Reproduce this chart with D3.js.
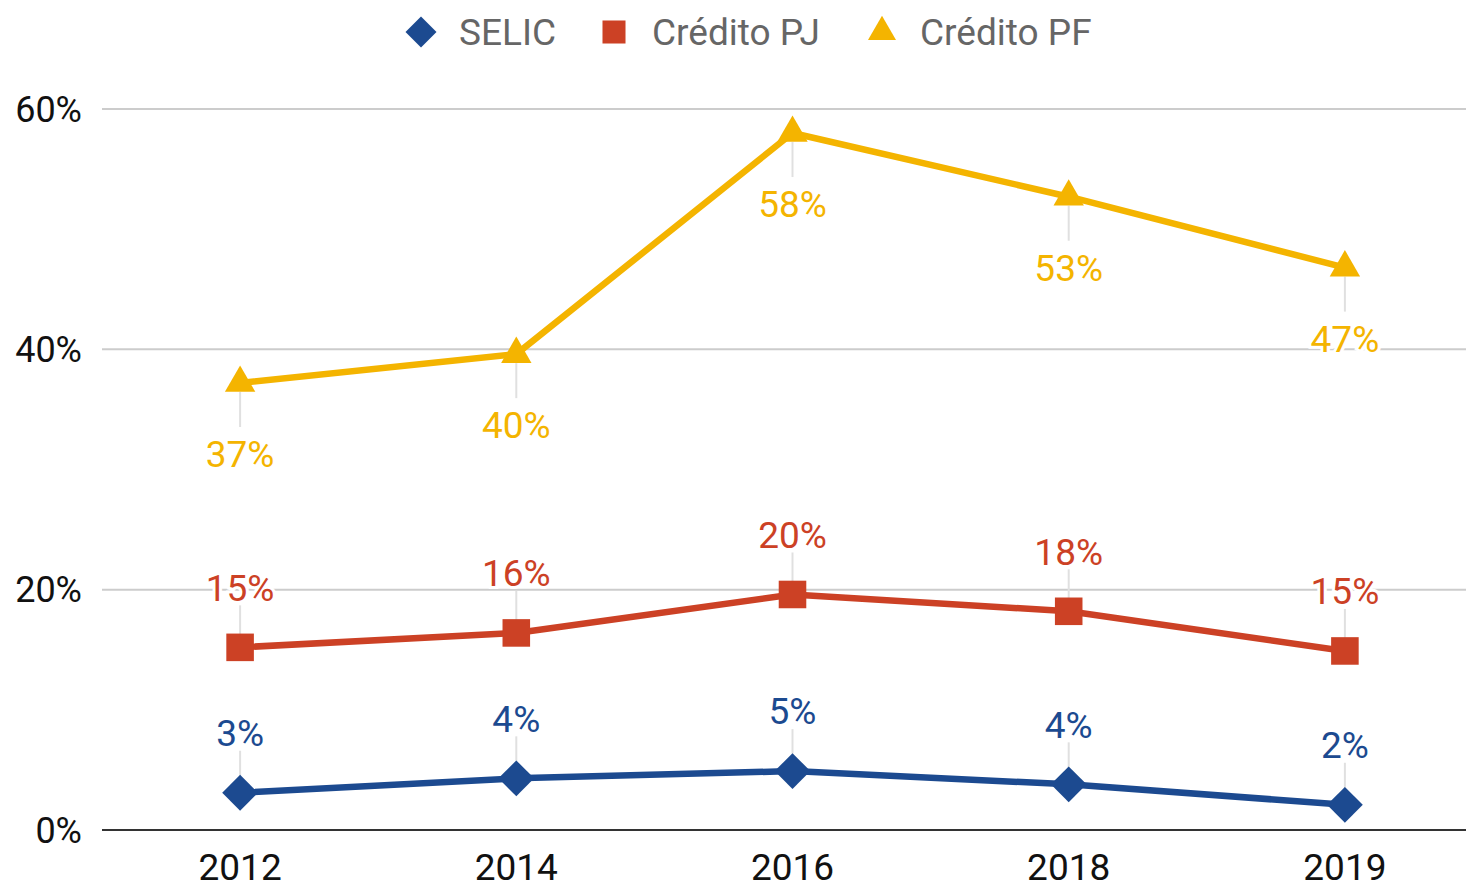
<!DOCTYPE html>
<html>
<head>
<meta charset="utf-8">
<script src="https://cdn.jsdelivr.net/npm/d3@7"></script>
<style>
  body { margin: 0; background: #fff; }
  svg { display: block; font-family: Roboto, sans-serif; }
</style>
</head>
<body>
<svg id="chart" width="1466" height="888"></svg>
<script>
const years = ['2012', '2014', '2016', '2018', '2019'];
const selic = [3.1, 4.3, 4.9, 3.8, 2.1];
const creditoPJ = [15.2, 16.4, 19.6, 18.2, 14.9];
const creditoPF = [37.2, 39.6, 58.0, 52.7, 46.8];
const selicLabels = ['3%', '4%', '5%', '4%', '2%'];
const pjLabels = ['15%', '16%', '20%', '18%', '15%'];
const pfLabels = ['37%', '40%', '58%', '53%', '47%'];
const yTicks = [0, 20, 40, 60];

// diamond = square turned 45deg
const series = [
    { name: 'SELIC', values: selic, labels: selicLabels, color: '#1c4a90', symbol: d3.symbolSquare, rot: 45, size: 640, legendSize: 480, above: true },
    { name: 'Crédito PJ', values: creditoPJ, labels: pjLabels, color: '#cc4125', symbol: d3.symbolSquare, rot: 0, size: 760, legendSize: 530, above: true },
    { name: 'Crédito PF', values: creditoPF, labels: pfLabels, color: '#f4b400', symbol: d3.symbolTriangle, rot: 0, size: 400, legendSize: 340, above: false }
];

const svg = d3.select('#chart');
const left = 102, right = 1466;

const x = d3.scalePoint().domain(years).range([left, 1483]).padding(0.5);
const y = d3.scaleLinear().domain([0, 60]).range([830, 109]);

// gridlines + y labels
const grid = svg.append('g');
yTicks.forEach(t => {
    grid.append('line')
        .attr('x1', left).attr('x2', right)
        .attr('y1', y(t)).attr('y2', y(t))
        .attr('stroke', t === 0 ? '#333' : '#ccc')
        .attr('stroke-width', 2);
    grid.append('text')
        .attr('x', 82).attr('y', y(t))
        .attr('dy', '0.35em')
        .attr('text-anchor', 'end')
        .attr('font-size', 36)
        .attr('fill', '#111')
        .text(t + '%');
});

// x labels
svg.append('g').selectAll('text')
    .data(years)
    .join('text')
    .attr('x', d => x(d))
    .attr('y', 880)
    .attr('text-anchor', 'middle')
    .attr('font-size', 37)
    .attr('fill', '#111')
    .text(d => d);

const line = d3.line().x((d, i) => x(years[i])).y(d => y(d));

series.forEach(s => {
    const g = svg.append('g');

    // leader lines
    g.selectAll('line.leader')
        .data(s.values)
        .join('line')
        .attr('x1', (d, i) => x(years[i]))
        .attr('x2', (d, i) => x(years[i]))
        .attr('y1', d => y(d) + (s.above ? -12 : 9))
        .attr('y2', d => y(d) + (s.above ? -42 : 44))
        .attr('stroke', '#e0e0e0')
        .attr('stroke-width', 2);

    g.append('path')
        .datum(s.values)
        .attr('d', line)
        .attr('fill', 'none')
        .attr('stroke', s.color)
        .attr('stroke-width', 6.5)
        .attr('stroke-linejoin', 'round');

    g.selectAll('path.pt')
        .data(s.values)
        .join('path')
        .attr('class', 'pt')
        .attr('transform', (d, i) => `translate(${x(years[i])},${y(d)}) rotate(${s.rot})`)
        .attr('d', d3.symbol(s.symbol, s.size))
        .attr('fill', s.color);

    g.selectAll('text')
        .data(s.values)
        .join('text')
        .attr('x', (d, i) => x(years[i]))
        .attr('y', d => y(d) + (s.above ? -60 : 71))
        .attr('dy', '0.36em')
        .attr('text-anchor', 'middle')
        .attr('font-size', 37)
        .attr('fill', s.color)
        .attr('stroke', '#fff')
        .attr('stroke-width', 6)
        .attr('paint-order', 'stroke')
        .text((d, i) => s.labels[i]);
});

// legend
const legendX = [421, 614, 882];
const legend = svg.append('g');
series.forEach((s, i) => {
    legend.append('path')
        .attr('transform', `translate(${legendX[i]},32) rotate(${s.rot})`)
        .attr('d', d3.symbol(s.symbol, s.legendSize))
        .attr('fill', s.color);
    legend.append('text')
        .attr('x', legendX[i] + 38)
        .attr('y', 32)
        .attr('dy', '0.36em')
        .attr('font-size', 37)
        .attr('fill', '#666')
        .text(s.name);
});
</script>
</body>
</html>
